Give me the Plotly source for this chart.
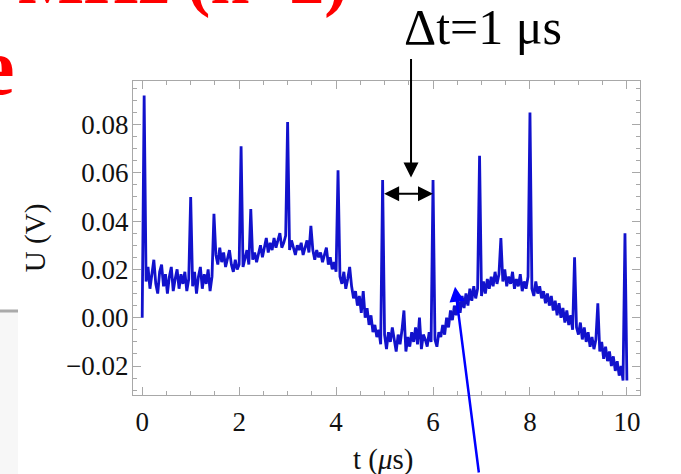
import plotly.graph_objects as go

# ---- data ----
T_STEP = 0.04  # sampling step in microseconds
U_VALUES = [
    0.000, 0.092, 0.015, 0.021, 0.012, 0.018, 0.024, 0.014, 0.010, 0.019,
    0.022, 0.013, 0.018, 0.010, 0.017, 0.021, 0.011, 0.016, 0.020, 0.012,
    0.018, 0.014, 0.019, 0.011, 0.016, 0.050, 0.013, 0.019, 0.010, 0.017,
    0.021, 0.012, 0.018, 0.014, 0.020, 0.011, 0.017, 0.043, 0.026, 0.022,
    0.029, 0.023, 0.027, 0.021, 0.025, 0.028, 0.022, 0.019, 0.024, 0.020,
    0.022, 0.071, 0.021, 0.025, 0.028, 0.022, 0.045, 0.024, 0.027, 0.023,
    0.026, 0.030, 0.025, 0.029, 0.033, 0.027, 0.031, 0.028, 0.033, 0.029,
    0.032, 0.035, 0.029, 0.031, 0.034, 0.081, 0.028, 0.032, 0.029, 0.026,
    0.030, 0.028, 0.031, 0.026, 0.029, 0.032, 0.027, 0.038, 0.028, 0.024,
    0.028, 0.025, 0.027, 0.023, 0.026, 0.029, 0.022, 0.025, 0.020, 0.023,
    0.019, 0.061, 0.017, 0.014, 0.019, 0.012, 0.016, 0.021, 0.013, 0.008,
    0.011, 0.005, 0.009, 0.002, 0.011, 0.000, 0.004, -0.003, 0.001, -0.006,
    -0.003, -0.008, -0.005, -0.011, 0.057, -0.007, -0.013, -0.006, -0.010, -0.004,
    -0.009, -0.014, -0.007, -0.011, -0.005, 0.003, -0.014, -0.008, -0.012, -0.006,
    -0.010, -0.004, -0.011, 0.000, -0.013, -0.007, -0.009, -0.012, -0.006, -0.010,
    0.057, -0.009, -0.012, -0.006, -0.008, -0.003, -0.007, 0.000, -0.004, 0.003,
    -0.001, 0.005, 0.001, 0.007, 0.002, 0.009, 0.004, 0.010, 0.005, 0.012,
    0.007, 0.013, 0.008, 0.012, 0.067, 0.009, 0.015, 0.010, 0.016, 0.012,
    0.017, 0.013, 0.019, 0.014, 0.018, 0.033, 0.015, 0.020, 0.013, 0.017,
    0.014, 0.019, 0.012, 0.016, 0.013, 0.018, 0.011, 0.015, 0.012, 0.017,
    0.085, 0.012, 0.009, 0.015, 0.010, 0.013, 0.008, 0.011, 0.006, 0.010,
    0.005, 0.009, 0.003, 0.007, 0.001, 0.006, 0.000, 0.004, -0.002, 0.003,
    -0.003, 0.001, -0.005, 0.025, -0.004, -0.007, -0.002, -0.009, -0.004, -0.010,
    -0.006, -0.012, -0.008, -0.013, -0.009, 0.006, -0.014, -0.010, -0.017, -0.012,
    -0.018, -0.014, -0.020, -0.016, -0.022, -0.018, -0.024, -0.020, -0.026, 0.035,
    -0.026,
]
T_VALUES = [round(i * T_STEP, 2) for i in range(len(U_VALUES))]

X_TICKS = [0, 2, 4, 6, 8, 10]
Y_TICKS = [-0.02, 0.00, 0.02, 0.04, 0.06, 0.08]

SERIF = "Liberation Serif, Times New Roman, serif"
LINE_BLUE = "#1212cc"
FRAME = "#a8a8a8"
TXT = "#111111"

fig = go.Figure()
fig.add_trace(go.Scatter(x=T_VALUES, y=U_VALUES, mode="lines",
                         line=dict(color=LINE_BLUE, width=2.8),
                         hoverinfo="skip", showlegend=False))

axis_common = dict(
    showgrid=False, zeroline=False, showline=True, linecolor=FRAME, linewidth=1,
    mirror="allticks", ticks="inside", ticklen=8, tickwidth=1, tickcolor=FRAME,
    tickfont=dict(family=SERIF, size=27, color=TXT), automargin=False,
)

fig.update_layout(
    width=681, height=474, autosize=False,
    margin=dict(l=133, r=41, t=81, b=79),
    paper_bgcolor="white", plot_bgcolor="white",
    xaxis=dict(range=[-0.19, 10.27], tickvals=X_TICKS,
               minor=dict(dtick=0.5, tick0=0, ticks="inside", ticklen=4, tickcolor=FRAME),
               ticklabelstandoff=3,
               **axis_common),
    yaxis=dict(range=[-0.032, 0.098], tickvals=Y_TICKS, tickformat=".2f",
               minor=dict(dtick=0.005, tick0=0, ticks="inside", ticklen=4, tickcolor=FRAME),
               ticklabelstandoff=-2,
               **axis_common),
)

# axis titles
fig.add_annotation(text="t (<i>μ</i>s)", xref="paper", yref="paper", x=0.493, y=-0.207,
                   xanchor="center", yanchor="middle", showarrow=False,
                   font=dict(family=SERIF, size=29, color=TXT))
fig.add_annotation(text="U (V)", xref="paper", yref="paper", x=-0.193, y=0.5,
                   xanchor="center", yanchor="middle", textangle=-90, showarrow=False,
                   font=dict(family=SERIF, size=29, color=TXT))

# slide decorations (left panel edge)
fig.add_shape(type="rect", xref="paper", yref="paper", x0=-0.4, x1=-0.2268,
              y0=-0.4, y1=0.2675, fillcolor="#f7f7f7", line=dict(width=0), layer="below")
fig.add_shape(type="line", xref="paper", yref="paper", x0=-0.4, x1=-0.2268,
              y0=0.2675, y1=0.2675, line=dict(color="#aaaaaa", width=3))

# red slide title fragments
fig.add_annotation(text="<b>MHz (n=2)</b>", xref="paper", yref="paper",
                   x=0.428, y=1.193, xanchor="right", yanchor="bottom", showarrow=False,
                   font=dict(family=SERIF, size=70, color="#ff0000"))
fig.add_annotation(text="<b>e</b>", xref="paper", yref="paper",
                   x=-0.2288, y=0.897, xanchor="right", yanchor="bottom", showarrow=False,
                   font=dict(family=SERIF, size=80, color="#ff0000"))

# Δt label and arrows
fig.add_annotation(text="Δt=1 μs", xref="paper", yref="paper", x=0.690, y=1.172,
                   xanchor="center", yanchor="middle", showarrow=False,
                   font=dict(family=SERIF, size=50, color="black"))
fig.add_annotation(text="", x=5.546, y=0.058, xref="x", yref="y", ax=0, ay=-120,
                   showarrow=True, arrowhead=2, arrowsize=1.5, arrowwidth=2, arrowcolor="black")
fig.add_annotation(text="", x=6.0, y=0.0513, xref="x", yref="y", ax=4.96, ay=0.0513,
                   axref="x", ayref="y", showarrow=True, arrowside="end+start",
                   arrowhead=2, startarrowhead=2, arrowsize=1.5, startarrowsize=1.5,
                   arrowwidth=2, arrowcolor="black")
fig.add_annotation(text="", x=6.454, y=0.0128, xref="x", yref="y", ax=24, ay=200,
                   showarrow=True, arrowhead=2, arrowsize=1.2, arrowwidth=2.5, arrowcolor="#0000ff")

fig.write_html("out.html")
